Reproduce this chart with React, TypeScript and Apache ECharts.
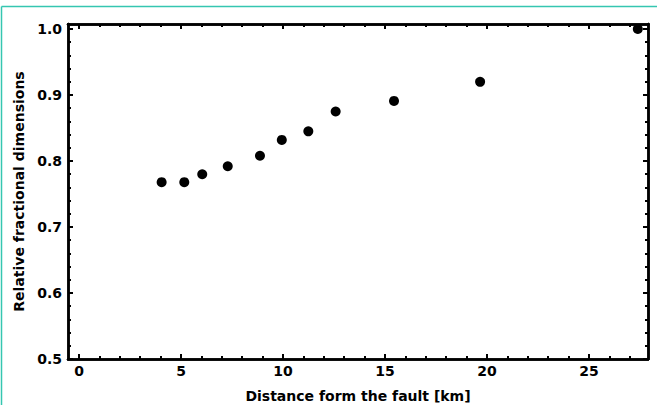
import React, { useEffect, useRef } from "react";
import * as echarts from "echarts";

const distanceKm = [4.05, 5.16, 6.04, 7.29, 8.87, 9.94, 11.24, 12.58, 15.44, 19.66, 27.39];
const relDim = [0.768, 0.768, 0.78, 0.792, 0.808, 0.832, 0.845, 0.875, 0.891, 0.92, 1.0];
const xMajorTicks = [0, 5, 10, 15, 20, 25];
const xMinorTicks = Array.from({ length: 28 }, (_, i) => i);
const yMajorTicks = [0.5, 0.6, 0.7, 0.8, 0.9, 1.0];
const yMinorTicks = [0.52, 0.54, 0.56, 0.58, 0.62, 0.64, 0.66, 0.68, 0.72, 0.74, 0.76, 0.78, 0.82, 0.84, 0.86, 0.88, 0.92, 0.94, 0.96, 0.98];

const FONT = "'DejaVu Sans', 'Liberation Sans', Arial, sans-serif";
const X_MIN = -0.54;
const X_MAX = 27.89;
const Y_MIN = 0.5;
const Y_MAX = 1.0076;

export default function App() {
  const ref = useRef<HTMLDivElement>(null);
  useEffect(() => {
    if (!ref.current) return;
    const chart = echarts.init(ref.current, null, { renderer: "svg" });
    const lineStyle = { color: "#000", width: 2.5 };
    const tickStyle = { color: "#000", width: 2 };
    const nameStyle = { fontFamily: FONT, fontWeight: "bold", fontSize: 14, color: "#000" };
    const labelStyle = { fontFamily: FONT, fontWeight: "bold", fontSize: 14, color: "#000" };
    const mkX = (position: string, ticks: number[], len: number, labels: boolean, name?: string) => ({
      type: "value",
      position,
      min: X_MIN,
      max: X_MAX,
      name,
      nameLocation: "middle",
      nameGap: 30,
      nameTextStyle: nameStyle,
      axisLine: { show: true, onZero: false, lineStyle },
      axisTick: { show: true, inside: true, length: len, customValues: ticks, lineStyle: tickStyle },
      axisLabel: labels
        ? { show: true, customValues: xMajorTicks, margin: 5, ...labelStyle, formatter: (v: number) => String(Math.round(v)) }
        : { show: false },
      splitLine: { show: false },
    });
    const mkY = (position: string, ticks: number[], len: number, labels: boolean, name?: string) => ({
      type: "value",
      position,
      min: Y_MIN,
      max: Y_MAX,
      name,
      nameLocation: "middle",
      nameGap: 42,
      nameTextStyle: nameStyle,
      axisLine: { show: true, onZero: false, lineStyle },
      axisTick: { show: true, inside: true, length: len, customValues: ticks, lineStyle: tickStyle },
      axisLabel: labels
        ? { show: true, customValues: yMajorTicks, margin: 6, ...labelStyle, formatter: (v: number) => v.toFixed(1) }
        : { show: false },
      splitLine: { show: false },
    });
    chart.setOption({
      animation: false,
      backgroundColor: "#fff",
      grid: { left: 68, top: 24, right: 9, bottom: 46, containLabel: false, outerBoundsMode: "none" },
      xAxis: [
        mkX("bottom", xMajorTicks, 5, true, "Distance form the fault [km]"),
        mkX("bottom", xMinorTicks, 3, false),
        mkX("top", xMajorTicks, 5, false),
        mkX("top", xMinorTicks, 3, false),
      ],
      yAxis: [
        mkY("left", yMajorTicks, 5, true, "Relative fractional dimensions"),
        mkY("left", yMinorTicks, 3, false),
        mkY("right", yMajorTicks, 5, false),
        mkY("right", yMinorTicks, 3, false),
      ],
      graphic: [
        { type: "line", shape: { x1: 1.5, y1: 6.5, x2: 657, y2: 6.5 }, style: { stroke: "#35c6b1", lineWidth: 1.5 } },
        { type: "line", shape: { x1: 1.5, y1: 6.5, x2: 1.5, y2: 405 }, style: { stroke: "#35c6b1", lineWidth: 1.5 } },
      ],
      series: [
        {
          type: "scatter",
          xAxisIndex: 0,
          yAxisIndex: 0,
          symbol: "circle",
          symbolSize: 10,
          itemStyle: { color: "#000", opacity: 1 },
          data: distanceKm.map((x, i) => [x, relDim[i]]),
        },
      ],
    });
    return () => chart.dispose();
  }, []);
  return <div ref={ref} style={{ position: "fixed", left: 0, top: 0, width: 657, height: 405 }} />;
}
